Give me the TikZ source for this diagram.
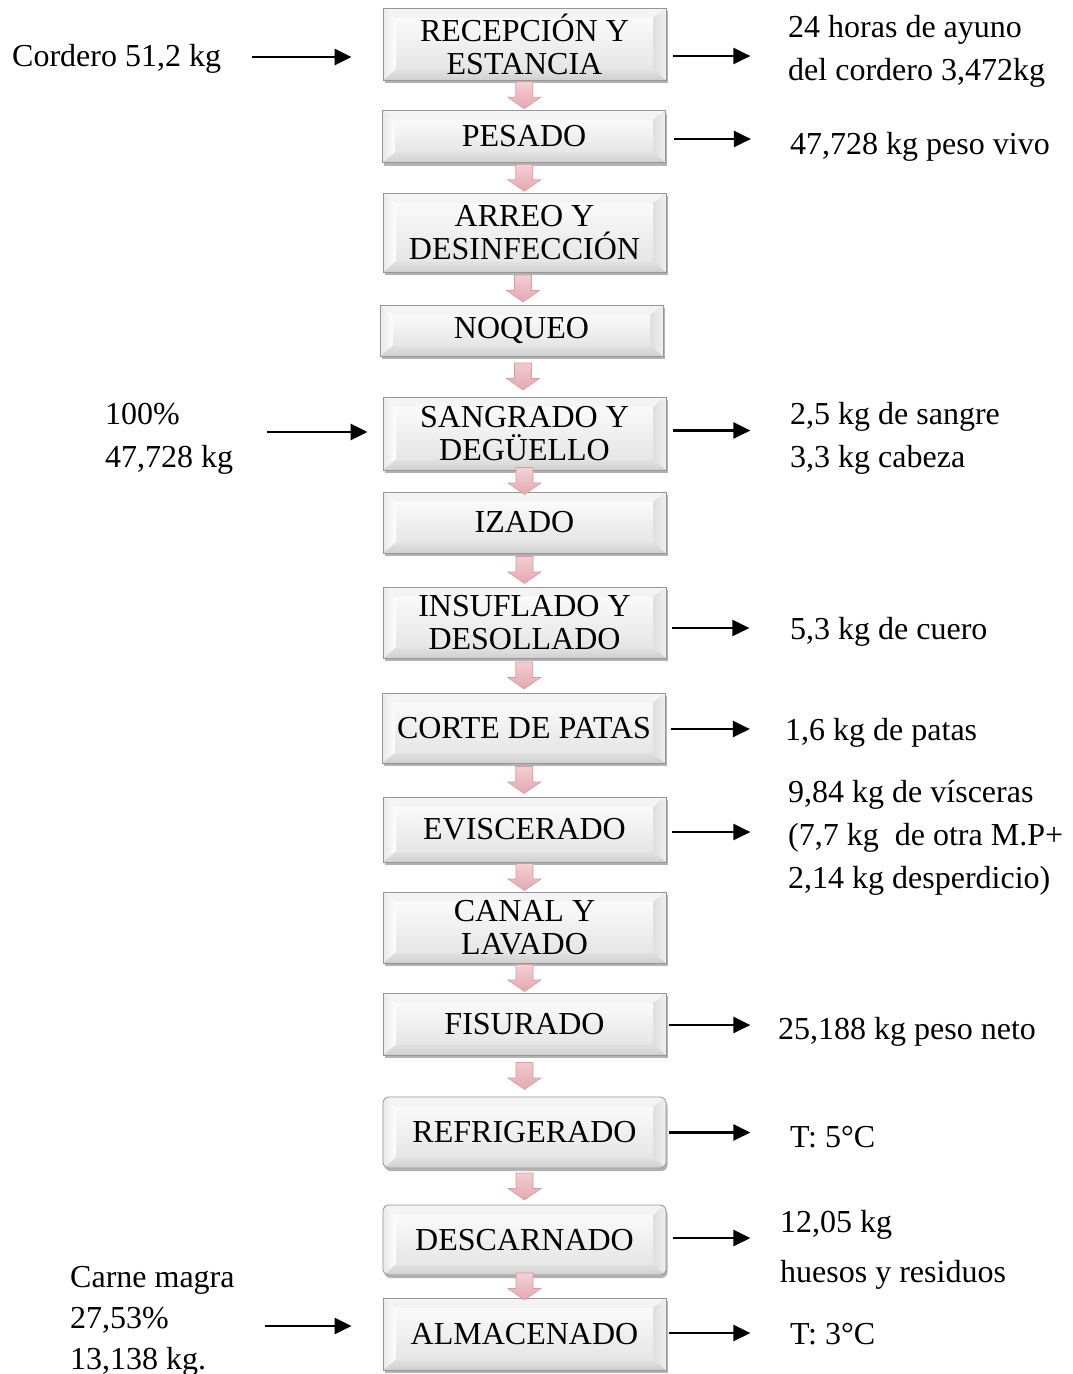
\documentclass[tikz,border=0pt]{standalone}
\usepackage{fontspec}
\setmainfont{Liberation Serif}
\usetikzlibrary{arrows.meta,shadows,calc}

\definecolor{facetop}{RGB}{250,250,250}
\definecolor{facebot}{RGB}{230,230,230}
\definecolor{bevtop}{RGB}{244,244,244}
\definecolor{bevbot}{RGB}{208,208,208}
\definecolor{bevleftout}{RGB}{232,232,232}
\definecolor{bevrightin}{RGB}{222,222,222}
\definecolor{boxedge}{RGB}{150,150,150}
\definecolor{arrowtop}{RGB}{244,210,214}
\definecolor{arrowbot}{RGB}{228,168,176}
\definecolor{arrowedge}{RGB}{214,156,164}

\newcommand{\boxfont}{\fontsize{32}{33}\selectfont}
\newcommand{\lblfont}{\fontsize{32}{43}\selectfont}
\newcommand{\mlines}[2][43pt]{\vtop{\baselineskip=#1\lineskiplimit=-50pt\lineskip=0pt\halign{##\hfil\cr#2\crcr}}}

\newcommand{\bevelfaces}{%
  \coordinate (pA) at (path picture bounding box.north west);
  \coordinate (pB) at (path picture bounding box.north east);
  \coordinate (pC) at (path picture bounding box.south east);
  \coordinate (pD) at (path picture bounding box.south west);
  \coordinate (qA) at ([shift={(13pt,-10pt)}]pA);
  \coordinate (qB) at ([shift={(-13pt,-10pt)}]pB);
  \coordinate (qC) at ([shift={(-13pt,11pt)}]pC);
  \coordinate (qD) at ([shift={(13pt,11pt)}]pD);
  \fill[bevtop,sharp corners] (pA) -- (pB) -- (qB) -- (qA) -- cycle;
  \shade[sharp corners,top color=bevbot!60!white,bottom color=bevbot] (pD) -- (pC) -- (qC) -- (qD) -- cycle;
  \shade[sharp corners,left color=bevleftout,right color=white] (pA) -- (qA) -- (qD) -- (pD) -- cycle;
  \shade[sharp corners,left color=bevrightin,right color=white!94!black] (pB) -- (qB) -- (qC) -- (pC) -- cycle;
  \shade[sharp corners,top color=facetop,bottom color=facebot] (qA) rectangle (qC);
}

\tikzset{
  stepbox/.style={rectangle, minimum width=283pt, minimum height=#1, inner sep=0pt,
    align=center, font=\boxfont, fill=facebot, draw=boxedge, line width=0.8pt,
    path picture={\bevelfaces},
    drop shadow={shadow xshift=1.5pt, shadow yshift=-3pt, opacity=0.3, fill=black}},
  lbl/.style={anchor=base west, inner sep=0pt, font=\lblfont},
  side/.style={line width=2.6pt, -{Triangle[length=17pt,width=16pt]}},
  flow/.style={draw=arrowedge, line width=0.6pt, top color=arrowtop, bottom color=arrowbot,
    to path={let \p1=(\tikztostart), \p2=(\tikztotarget),
      \n1={0.5*(\x1+\x2)}, \n2={0.5*(\y1+\y2)} in
      ({\n1-8.5pt},{\n2+13.5pt}) -- ({\n1+8.5pt},{\n2+13.5pt}) -- ({\n1+8.5pt},{\n2-2pt})
      -- ({\n1+16.5pt},{\n2-2pt}) -- (\n1,{\n2-13.5pt}) -- ({\n1-16.5pt},{\n2-2pt})
      -- ({\n1-8.5pt},{\n2-2pt}) -- cycle}}
}

\begin{document}
\begin{tikzpicture}[x=1pt,y=1pt]
\useasboundingbox[fill=white] (0,0) rectangle (1072,-1374);

% process steps
\node[stepbox=72pt] (b1) at (524.5,-44) {RECEPCIÓN Y\\ESTANCIA};
\node[stepbox=52pt] (b2) at (524,-136.5) {PESADO};
\node[stepbox=79pt] (b3) at (524.5,-232.5) {ARREO Y\\DESINFECCIÓN};
\node[stepbox=51pt] (b4) at (521.5,-330.5) {NOQUEO};
\node[stepbox=73pt] (b5) at (524.5,-433.5) {SANGRADO Y\\DEGÜELLO};
\node[stepbox=61pt] (b6) at (524.5,-522.5) {IZADO};
\node[stepbox=71pt] (b7) at (524.5,-622.5) {INSUFLADO Y\\DESOLLADO};
\node[stepbox=70pt] (b8) at (524,-728) {CORTE DE PATAS};
\node[stepbox=65pt] (b9) at (524.5,-829.5) {EVISCERADO};
\node[stepbox=71pt] (b10) at (524.5,-927.5) {CANAL Y\\LAVADO};
\node[stepbox=62pt] (b11) at (524.5,-1024) {FISURADO};
\node[stepbox=71pt, rounded corners=6pt] (b12) at (524.5,-1132.5) {REFRIGERADO};
\node[stepbox=70pt, rounded corners=6pt] (b13) at (524.5,-1240) {DESCARNADO};
\node[stepbox=72pt] (b14) at (524.5,-1334) {ALMACENADO};

% flow arrows
\draw[flow] (b1.south) to (b2.north);
\draw[flow] (b2.south) to (b3.north);
\draw[flow] (b3.south) to (b4.north);
\draw[flow] (b4.south) to (b5.north);
\draw[flow] (b5.south) to (b6.north);
\draw[flow] (b6.south) to (b7.north);
\draw[flow] (b7.south) to (b8.north);
\draw[flow] (b8.south) to (b9.north);
\draw[flow] (b9.south) to (b10.north);
\draw[flow] (b10.south) to (b11.north);
\draw[flow] (b11.south) to (b12.north);
\draw[flow] (b12.south) to (b13.north);
\draw[flow] (b13.south) to (b14.north);

% left labels
\node[lbl] (l1) at (12,-66) {Cordero 51,2 kg};
\node[lbl] (l5) at (105,-424) {\mlines{100\%\cr 47,728 kg}};
\node[lbl] (l14) at (70,-1287) {\mlines[41pt]{Carne magra\cr 27,53\%\cr 13,138 kg.}};

% right labels
\node[lbl] (r1) at (788,-37) {\mlines{24 horas de ayuno\cr del cordero 3,472kg}};
\node[lbl] (r2) at (790,-154) {47,728 kg peso vivo};
\node[lbl] (r5) at (790,-424) {\mlines{2,5 kg de sangre\cr 3,3 kg cabeza}};
\node[lbl] (r7) at (790,-639) {5,3 kg de cuero};
\node[lbl] (r8) at (785,-740) {1,6 kg de patas};
\node[lbl] (r9) at (788,-802) {\mlines{9,84 kg de vísceras\cr (7,7 kg~ de otra M.P+\cr 2,14 kg desperdicio)}};
\node[lbl] (r11) at (778,-1039) {25,188 kg peso neto};
\node[lbl] (r12) at (790,-1147) {T: 5°C};
\node[lbl] (r13) at (780,-1232) {\mlines[50pt]{12,05 kg\cr huesos y residuos}};
\node[lbl] (r14) at (790,-1344) {T: 3°C};

% input arrows
\draw[side] ([shift={(-131pt,-13pt)}]b1.west) -- ++(100,0);
\draw[side] ([shift={(-116pt,1.5pt)}]b5.west) -- ++(101,0);
\draw[side] ([shift={(-118pt,8pt)}]b14.west) -- ++(87,0);

% output arrows
\draw[side] ([shift={(7pt,-12pt)}]b1.east) -- ++(77,0);
\draw[side] ([shift={(8pt,-2.5pt)}]b2.east) -- ++(77,0);
\draw[side] ([shift={(7pt,3pt)}]b5.east) -- ++(77,0);
\draw[side] ([shift={(6pt,-5.5pt)}]b7.east) -- ++(77,0);
\draw[side] ([shift={(5pt,-1pt)}]b8.east) -- ++(79,0);
\draw[side] ([shift={(6pt,-2.5pt)}]b9.east) -- ++(78,0);
\draw[side] ([shift={(3pt,-1pt)}]b11.east) -- ++(81,0);
\draw[side] ([shift={(3pt,0pt)}]b12.east) -- ++(81,0);
\draw[side] ([shift={(7pt,2pt)}]b13.east) -- ++(77,0);
\draw[side] ([shift={(3pt,1pt)}]b14.east) -- ++(81,0);
\end{tikzpicture}
\end{document}
